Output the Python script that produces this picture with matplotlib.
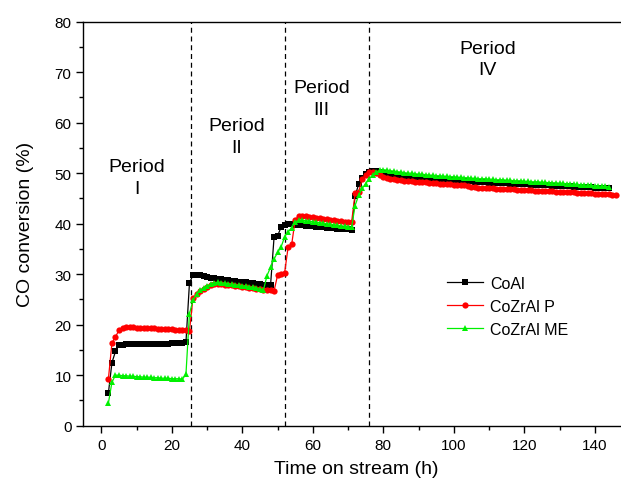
import numpy as np
import matplotlib
matplotlib.use("Agg")
import matplotlib.pyplot as plt

plt.rcParams['font.family'] = ['Liberation Sans', 'DejaVu Sans']

# CO conversion (%) sampled hourly, first sample at 2 h on stream
start_hour = 2

coal = [
    6.5, 12.5, 14.7, 16.0,
    16.0, 16.1, 16.1, 16.1, 16.1, 16.1, 16.1, 16.1, 16.1, 16.2, 16.2, 16.2, 16.2, 16.2,
    16.3, 16.3, 16.3, 16.4, 16.5,
    28.3, 29.8, 29.9, 29.8, 29.6, 29.4,
    29.3, 29.2, 29.1, 29.0, 28.9, 28.8, 28.7, 28.6, 28.5, 28.5, 28.4, 28.3, 28.2, 28.1,
    28.0, 27.9, 27.8, 27.8,
    37.3, 37.6, 39.3, 39.8, 40.0,
    39.9, 39.8, 39.8, 39.7, 39.6, 39.6, 39.5, 39.4, 39.4, 39.3, 39.2, 39.2, 39.1, 39.0,
    39.0, 38.9, 38.9, 38.8,
    45.5, 47.8, 49.0, 49.8, 50.3, 50.5, 50.4, 50.2,
    50.0, 49.9, 49.8, 49.7, 49.6, 49.5, 49.4, 49.3, 49.3, 49.2,
    49.2, 49.1, 49.0, 49.0, 48.9, 48.9, 48.8, 48.8, 48.7, 48.7,
    48.6, 48.6, 48.5, 48.5, 48.4, 48.4, 48.3, 48.3, 48.2, 48.2,
    48.1, 48.1, 48.1, 48.0, 48.0, 48.0, 47.9, 47.9, 47.9, 47.8,
    47.8, 47.8, 47.7, 47.7, 47.7, 47.6, 47.6, 47.6, 47.5, 47.5,
    47.5, 47.4, 47.4, 47.4, 47.3, 47.3, 47.3, 47.2, 47.2, 47.2,
    47.1, 47.1, 47.1, 47.0, 47.0,
]

cozral_p = [
    9.3, 16.4, 17.6, 18.9, 19.4,
    19.5, 19.5, 19.5, 19.4, 19.4, 19.4, 19.3, 19.3, 19.3, 19.2, 19.2, 19.2, 19.1, 19.1,
    19.0, 19.0, 18.9, 18.9,
    18.8,
    25.3, 26.0, 26.6, 27.1, 27.5, 27.8, 28.0, 28.1,
    28.0, 27.9, 27.9, 27.8, 27.7, 27.6, 27.5, 27.4, 27.3, 27.2, 27.1, 27.0, 26.9, 26.8,
    26.8, 26.7,
    29.8, 30.1, 30.3, 35.4, 35.9, 40.8, 41.5,
    41.6, 41.5, 41.4, 41.3, 41.2, 41.1, 41.0, 40.9, 40.8, 40.7, 40.6, 40.5, 40.4, 40.4, 40.3,
    46.0, 46.3, 48.8, 49.7, 50.2, 50.3, 50.0, 49.6, 49.3,
    49.0, 48.9, 48.8, 48.7, 48.6, 48.5, 48.5, 48.4, 48.3,
    48.3, 48.2, 48.2, 48.1, 48.0, 48.0, 47.9, 47.9, 47.8, 47.8,
    47.7, 47.7, 47.6, 47.6, 47.5, 47.2, 47.2, 47.1, 47.1, 47.0,
    47.0, 47.0, 46.9, 46.9, 46.9, 46.8, 46.8, 46.8, 46.7, 46.7,
    46.6, 46.6, 46.6, 46.5, 46.5, 46.5, 46.4, 46.4, 46.4, 46.3,
    46.3, 46.3, 46.2, 46.2, 46.2, 46.1, 46.1, 46.1, 46.0, 46.0,
    45.9, 45.9, 45.9, 45.8, 45.8, 45.7, 45.7,
]

cozral_me = [
    4.5, 8.6, 10.0,
    10.0, 9.9, 9.9, 9.8, 9.8, 9.7, 9.7, 9.6, 9.6, 9.6, 9.5, 9.5, 9.4, 9.4, 9.4, 9.3, 9.3,
    9.3, 9.2,
    10.2,
    22.2, 24.8, 26.0, 26.8, 27.3, 27.7, 28.0, 28.3, 28.4,
    28.3, 28.2, 28.1, 28.0, 27.9, 27.8, 27.7, 27.6, 27.5, 27.4, 27.3, 27.1, 26.9,
    29.7, 31.4, 33.0, 34.3, 35.4, 37.4, 38.4, 39.2, 40.3, 40.7,
    40.7, 40.6, 40.5, 40.4, 40.3, 40.2, 40.1, 40.0, 39.9, 39.8, 39.7, 39.6, 39.5, 39.4, 39.3,
    43.6, 45.6, 47.0, 47.9, 48.9, 49.6, 50.2, 50.6, 50.7,
    50.6, 50.5, 50.4, 50.3, 50.2, 50.1, 50.0, 50.0, 49.9,
    49.8, 49.8, 49.7, 49.6, 49.6, 49.5, 49.5, 49.4, 49.4, 49.3,
    49.3, 49.2, 49.2, 49.1, 49.1, 49.0, 49.0, 48.9, 48.9, 48.9,
    48.8, 48.8, 48.7, 48.7, 48.7, 48.6, 48.6, 48.5, 48.5, 48.5,
    48.4, 48.4, 48.3, 48.3, 48.3, 48.2, 48.2, 48.1, 48.1, 48.1,
    48.0, 48.0, 47.9, 47.9, 47.8, 47.8, 47.7, 47.7, 47.6, 47.6,
    47.5, 47.5, 47.4, 47.4, 47.3,
]

series_labels = ['CoAl', 'CoZrAl P', 'CoZrAl ME']
period_bounds = [25.5, 52.0, 76.0]
period_names = ['I', 'II', 'III', 'IV']
period_text_pos = [(10.0, 49.2), (38.5, 57.3), (62.5, 64.8), (109.5, 72.6)]

fig = plt.figure(figsize=(6.21, 4.89), dpi=100)
ax = fig.add_axes([83.4 / 621, 62.3 / 489, (630 - 83.4) / 621, 404.0 / 489])

styles = [
    dict(color='black', marker='s', markersize=4.0),
    dict(color='#ff0000', marker='o', markersize=4.5),
    dict(color='#00f000', marker='^', markersize=4.8),
]
for vals, lab, st in zip([coal, cozral_p, cozral_me], series_labels, styles):
    hours = start_hour + np.arange(len(vals))
    ax.plot(hours, vals, linewidth=0.9, markeredgewidth=0, label=lab, **st)

for xb in period_bounds:
    ax.axvline(xb, color='black', linestyle=(0, (4, 3)), linewidth=0.9, zorder=0)

for (px, py), name in zip(period_text_pos, period_names):
    ax.text(px, py, 'Period\n' + name, ha='center', va='center', fontsize=14,
            linespacing=1.35)

ax.set_xlim(-5.1, 150)
ax.set_ylim(0, 80)
ax.set_xticks(np.arange(0, 141, 20))
ax.set_xticks(np.arange(0, 151, 10), minor=True)
ax.set_yticks(np.arange(0, 81, 10))
ax.set_yticks(np.arange(0, 81, 5), minor=True)
ax.tick_params(which='both', direction='out', top=False, right=False, labelsize=11)
ax.tick_params(which='major', length=5, width=1)
ax.tick_params(which='minor', length=3, width=1)
for sp in ax.spines.values():
    sp.set_linewidth(1.0)

ax.set_xlabel('Time on stream (h)', fontsize=14, labelpad=6)
ax.set_ylabel('CO conversion (%)', fontsize=14, labelpad=15)

leg = ax.legend(loc='center left', bbox_to_anchor=(432.6 / 621, (489 - 307.5) / 489),
                bbox_transform=fig.transFigure, frameon=False, fontsize=11.5,
                handlelength=2.25, handletextpad=0.45, labelspacing=0.5)

fig.savefig('out.png', dpi=100)
